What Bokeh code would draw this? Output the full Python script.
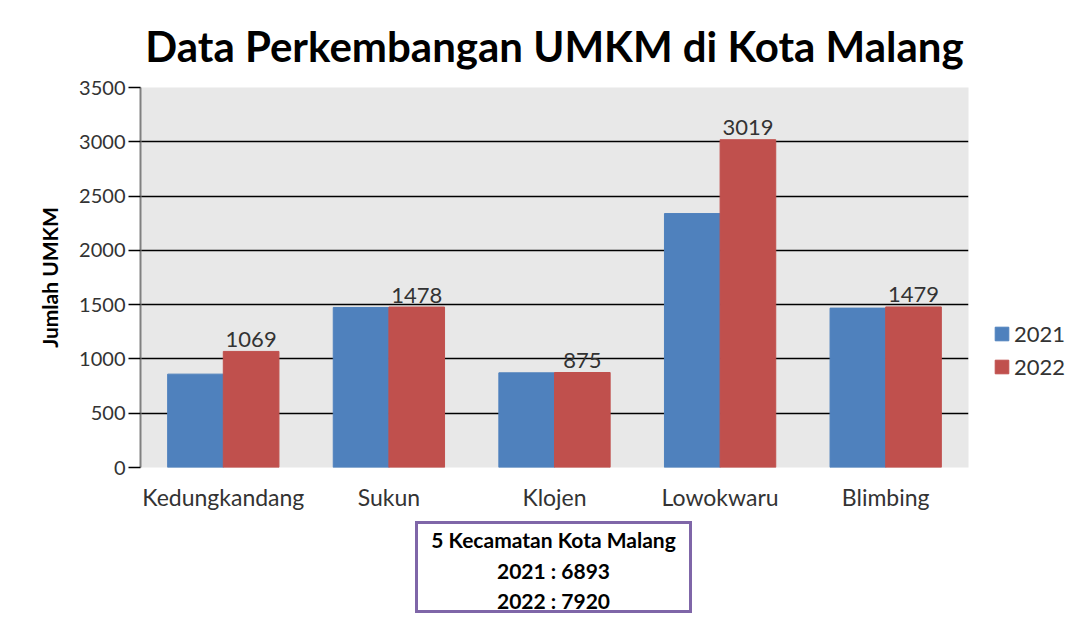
from bokeh.plotting import figure
from bokeh.models import (ColumnDataSource, FactorRange, Range1d, Legend, LegendItem,
                          SingleIntervalTicker, Div)
from bokeh.layouts import column
from bokeh.transform import dodge
from bokeh.core.properties import value
from bokeh.embed import file_html
from bokeh.resources import INLINE

categories = ["Kedungkandang", "Sukun", "Klojen", "Lowokwaru", "Blimbing"]
values_2021 = [860, 1474, 872, 2339, 1468]
values_2022 = [1069, 1478, 875, 3019, 1479]
labels_2022 = ["1069", "1478", "875", "3019", "1479"]
series_names = ["2021", "2022"]
summary_lines = ["5 Kecamatan Kota Malang", "2021 : 6893", "2022 : 7920"]

FONT = "Lato"
BLUE = "#4f81bd"
RED = "#c0504d"

src = ColumnDataSource(dict(cat=categories, v21=values_2021, v22=values_2022, lab=labels_2022))

p = figure(x_range=FactorRange(*categories), y_range=Range1d(0, 3500),
           frame_width=828, frame_height=380, output_backend="svg", toolbar_location=None,
           min_border_left=140, min_border_right=113, min_border_top=87, min_border_bottom=48)

p.title.text = "Data Perkembangan UMKM di Kota Malang"
p.title.text_font = FONT
p.title.text_font_size = "42px"
p.title.text_font_style = "bold"
p.title.text_line_height = 1.0
p.title.align = "center"
p.title.text_color = "#000000"
p.title.standoff = 34

p.background_fill_color = "#e8e8e8"
p.border_fill_color = "#ffffff"
p.outline_line_color = None

r21 = p.vbar(x=dodge("cat", -0.168, range=p.x_range), top="v21", width=0.336, source=src,
             fill_color=BLUE, line_color=BLUE)
r22 = p.vbar(x=dodge("cat", 0.168, range=p.x_range), top="v22", width=0.336, source=src,
             fill_color=RED, line_color=RED)

p.text(x=dodge("cat", 0.168, range=p.x_range), y="v22", text="lab", source=src,
       text_align="center", text_baseline="alphabetic", y_offset=-12,
       text_font=value(FONT), text_font_size="22px", text_color="#333333")

# axes
p.yaxis.ticker = SingleIntervalTicker(interval=500)
p.yaxis.axis_label = "Jumlah UMKM"
p.yaxis.axis_label_text_font = FONT
p.yaxis.axis_label_text_font_style = "bold"
p.yaxis.axis_label_text_font_size = "21px"
p.yaxis.axis_label_text_color = "#000000"
p.yaxis.axis_label_standoff = 14
p.yaxis.major_label_text_font = FONT
p.yaxis.major_label_text_font_size = "20px"
p.yaxis.major_label_text_color = "#333333"
p.yaxis.major_tick_out = 12
p.yaxis.major_tick_in = 0
p.yaxis.major_tick_line_color = "#000000"
p.yaxis.major_tick_line_width = 1.5
p.yaxis.minor_tick_line_color = None
p.yaxis.axis_line_color = "#808080"
p.yaxis.axis_line_width = 2
p.yaxis.major_label_standoff = 3

p.xaxis.axis_line_color = None
p.xaxis.major_tick_line_color = None
p.xaxis.minor_tick_line_color = None
p.xaxis.major_label_text_font = FONT
p.xaxis.major_label_text_font_size = "23px"
p.xaxis.major_label_text_color = "#333333"
p.xaxis.major_label_standoff = 9

p.xgrid.grid_line_color = None
p.ygrid.grid_line_color = "#000000"
p.ygrid.grid_line_width = 1.5

legend = Legend(items=[LegendItem(label=series_names[0], renderers=[r21]),
                       LegendItem(label=series_names[1], renderers=[r22])],
                location=(25, 87), background_fill_alpha=0, border_line_color=None,
                label_text_font=FONT, label_text_font_size="22px", label_text_color="#333333",
                glyph_width=17, glyph_height=17, spacing=6, padding=2, margin=0,
                label_standoff=4)
p.add_layout(legend, "right")

box_html = (
    '<div style="box-sizing:border-box;width:277px;height:92px;padding-top:1px;'
    'border:3px solid #7f66a8;'
    'font-family:Lato;font-weight:bold;font-size:21px;line-height:30.5px;'
    'text-align:center;color:#000000;">'
    + "<br>".join(summary_lines) + "</div>"
)
summary = Div(text=box_html, width=300, height=110, margin=(6, 0, 0, 415))

layout = column(p, summary, spacing=0)

open("out.html", "w").write(file_html(layout, INLINE))
